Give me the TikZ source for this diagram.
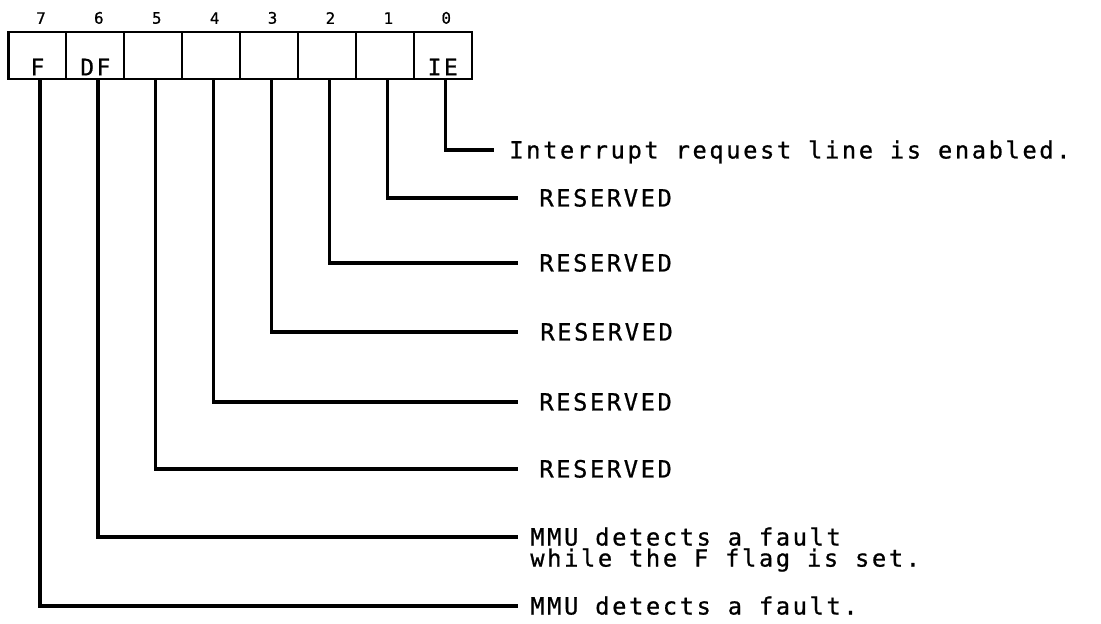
\documentclass[tikz,border=0pt]{standalone}
\usepackage{fontspec}
\newfontfamily\regfont[LetterSpace=11,FakeBold=0.8]{DejaVu Sans Mono}
\usetikzlibrary{positioning}

\begin{document}
\begin{tikzpicture}[x=0.02cm, y=-0.02cm]

% --- parameters (in px of the page) ---
\def\cw{57.9}    % cell width
\def\cx{8.5}     % left edge of register
\def\bt{32.3}    % top of register
\def\bb{79}      % bottom of register

% --- styles ---
\tikzset{
    cellbox/.style={draw, line width=1.2pt, minimum width=1.158cm,
        minimum height=0.934cm, inner sep=0pt, text height=0.86cm,
        text depth=0.07cm, font=\regfont\fontsize{13}{12}\selectfont},
    bitnum/.style={inner sep=0pt, font=\regfont\fontsize{9}{9}\selectfont},
    desc/.style={anchor=west, inner sep=0pt, text height=0.34cm,
        text depth=0pt, font=\regfont\fontsize{13.5}{12}\selectfont},
    lead/.style={line width=1.9pt}
}

\useasboundingbox (0,0) rectangle (1101,624);

% --- register cells ---
\foreach \i/\lab in {7/F, 6/DF, 5/{}, 4/{}, 3/{}, 2/{}, 1/{}, 0/IE} {
    \node[cellbox] (bit\i) at ({\cx+(7.5-\i)*\cw}, {(\bt+\bb)/2}) {\lab};
    \node[bitnum, above=0.14cm of bit\i.north, xshift=0.07cm] (num\i) {\i};
}

% --- bit descriptions ---
\foreach \i/\y/\xe/\xt/\txt in {
    0/150/494/509/Interrupt request line is enabled.,
    1/198/518/539/RESERVED,
    2/263/518/539/RESERVED,
    3/332/518/540/RESERVED,
    4/402/518/539/RESERVED,
    5/469/518/539/RESERVED,
    7/606/518/530/MMU detects a fault.} {
    \coordinate (end\i) at (\xe,\y);
    \node[desc] (desc\i) at (\xt,\y) {\txt};
    \draw[lead] ([xshift=0.05cm]bit\i.south) |- (end\i);
}

% two-line description of bit 6
\coordinate (end6) at (518,537);
\node[anchor=north west, inner sep=0pt, align=left,
    font=\regfont\fontsize{13.5}{12}\selectfont]
    (desc6) at (530,527) {MMU detects a fault\\while the F flag is set.};
\draw[lead] ([xshift=0.05cm]bit6.south) |- (end6);

\end{tikzpicture}
\end{document}
